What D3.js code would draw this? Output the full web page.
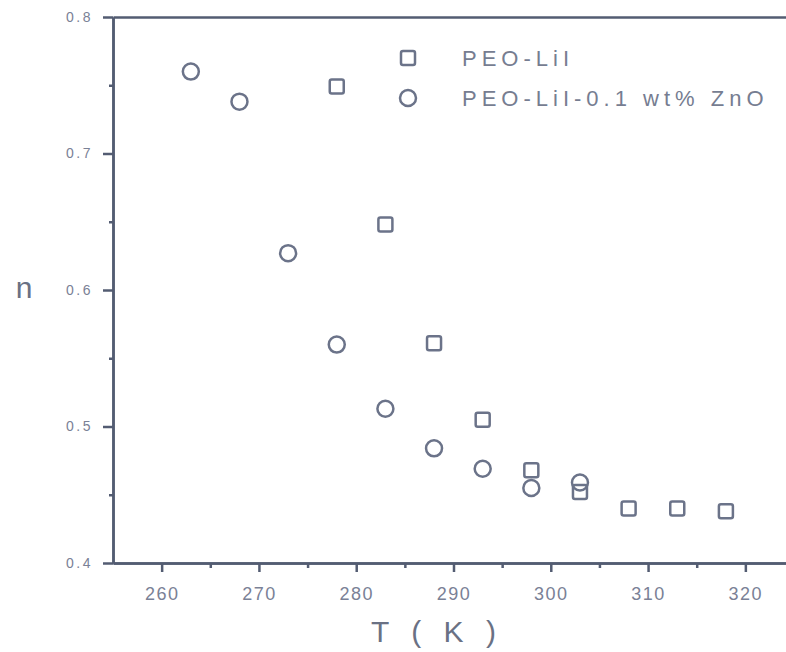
<!DOCTYPE html>
<html>
<head>
<meta charset="utf-8">
<script src="https://cdn.jsdelivr.net/npm/d3@7"></script>
<style>
  body { margin: 0; background: #fff; }
  svg { display: block; font-family: 'Liberation Sans', Arial, sans-serif; }
  .axis path, .axis line { stroke: #535c72; stroke-width: 2.5; }
  .axis text { fill: #7a8196; }
</style>
</head>
<body>
<svg width="786" height="652"></svg>
<script>
// PEO-LiI-0.1 wt% ZnO (circles)
var tempZnO = [263, 268, 273, 278, 283, 288, 293, 298, 303];
var nZnO = [0.760, 0.738, 0.627, 0.560, 0.513, 0.484, 0.469, 0.455, 0.459];
// PEO-LiI (squares)
var tempPeo = [278, 283, 288, 293, 298, 303, 308, 313, 318];
var nPeo = [0.749, 0.648, 0.561, 0.505, 0.468, 0.452, 0.440, 0.440, 0.438];

var xTicks = [260, 270, 280, 290, 300, 310, 320];
var xMinor = [265, 275, 285, 295, 305, 315, 325];
var yTicks = [0.4, 0.5, 0.6, 0.7, 0.8];
var yMinor = [0.45, 0.55, 0.65, 0.75];
var legendLabels = ['PEO-LiI', 'PEO-LiI-0.1 wt% ZnO'];

var svg = d3.select('svg');
var margin = {top: 17, left: 113};
var width = 681;
var height = 546;
var markColor = '#6b7389';

var g = svg
  .append('g')
  .attr('transform', 'translate(' + margin.left + ',' + margin.top + ')');

var x = d3.scaleLinear().domain([255, 325]).range([0, width]);
var y = d3.scaleLinear().domain([0.4, 0.8]).range([height, 0]);

// top frame line
g.append('g')
  .attr('class', 'axis')
  .call(d3.axisTop(x).tickValues([]).tickSizeOuter(0));

// x axis, major + minor
g.append('g')
  .attr('class', 'axis')
  .attr('transform', 'translate(0,' + height + ')')
  .call(d3.axisBottom(x).tickValues(xMinor).tickSize(5).tickFormat('').tickSizeOuter(0));
g.append('g')
  .attr('class', 'axis axis--x')
  .attr('transform', 'translate(0,' + height + ')')
  .call(d3.axisBottom(x).tickValues(xTicks).tickSize(9).tickPadding(15).tickSizeOuter(0))
  .call(function(s) {
    s.selectAll('text').attr('font-size', 18).attr('letter-spacing', 1.5);
  });

// y axis, major + minor
g.append('g')
  .attr('class', 'axis')
  .call(d3.axisLeft(y).tickValues(yMinor).tickSize(4).tickFormat('').tickSizeOuter(0));
g.append('g')
  .attr('class', 'axis axis--y')
  .call(d3.axisLeft(y).tickValues(yTicks).tickSize(10).tickPadding(10)
    .tickFormat(d3.format('.1f')).tickSizeOuter(0))
  .call(function(s) {
    s.selectAll('text').attr('font-size', 14).attr('letter-spacing', 2.5).attr('fill', '#7d8397');
  });

// axis titles
svg.append('text')
  .attr('x', 437)
  .attr('y', 642)
  .attr('text-anchor', 'middle')
  .attr('font-size', 30)
  .attr('letter-spacing', 7)
  .attr('fill', '#6a7184')
  .text('T ( K )');
svg.append('text')
  .attr('x', 24)
  .attr('y', 298)
  .attr('text-anchor', 'middle')
  .attr('font-size', 30)
  .attr('fill', '#6a7184')
  .text('n');

// data marks
g.selectAll('.sq')
  .data(tempPeo)
  .enter()
  .append('rect')
  .attr('class', 'sq')
  .attr('x', function(d) { return x(d) - 7; })
  .attr('y', function(d, i) { return y(nPeo[i]) - 7; })
  .attr('width', 14)
  .attr('height', 14)
  .attr('rx', 2)
  .attr('fill', 'none')
  .attr('stroke', markColor)
  .attr('stroke-width', 2.5);

g.selectAll('.circ')
  .data(tempZnO)
  .enter()
  .append('circle')
  .attr('class', 'circ')
  .attr('cx', function(d) { return x(d); })
  .attr('cy', function(d, i) { return y(nZnO[i]); })
  .attr('r', 8)
  .attr('fill', 'none')
  .attr('stroke', markColor)
  .attr('stroke-width', 2.5);

// legend
var legend = svg.append('g').attr('transform', 'translate(408,58)');
legend.append('rect')
  .attr('x', -7).attr('y', -7).attr('width', 14).attr('height', 14).attr('rx', 2)
  .attr('fill', 'none').attr('stroke', markColor).attr('stroke-width', 2.5);
legend.append('circle')
  .attr('cx', 0).attr('cy', 40).attr('r', 8)
  .attr('fill', 'none').attr('stroke', markColor).attr('stroke-width', 2.5);
legend.selectAll('.lab')
  .data(legendLabels)
  .enter()
  .append('text')
  .attr('class', 'lab')
  .attr('x', 54)
  .attr('y', function(d, i) { return i * 40 + 8; })
  .attr('font-size', 22)
  .attr('letter-spacing', 5)
  .attr('fill', '#767d91')
  .text(function(d) { return d; });
</script>
</body>
</html>
